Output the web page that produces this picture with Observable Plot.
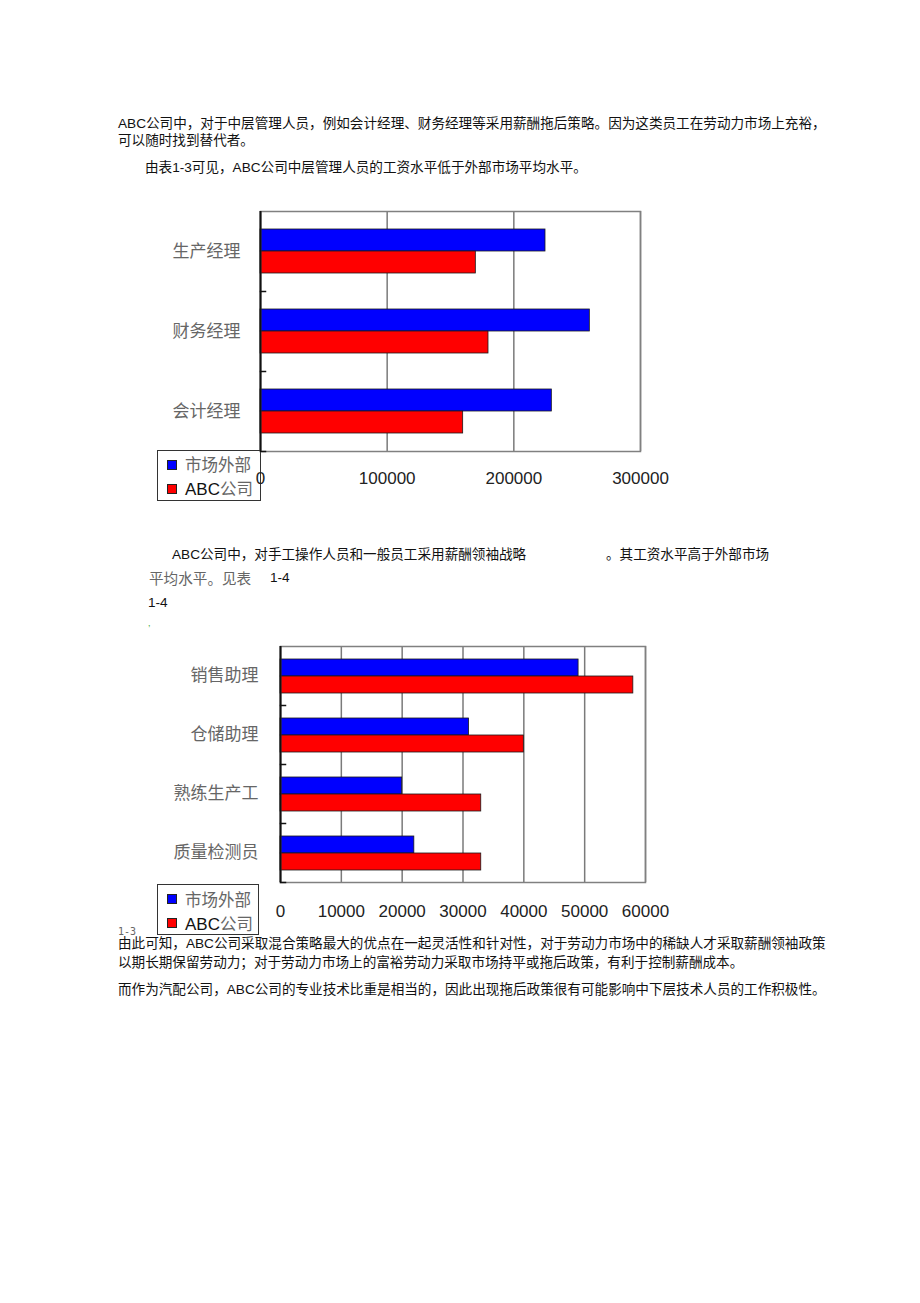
<!DOCTYPE html>
<html><head><meta charset="utf-8">
<script src="https://cdn.jsdelivr.net/npm/d3@7"></script>
<script src="https://cdn.jsdelivr.net/npm/@observablehq/plot@0.6"></script>
<style>
html,body{margin:0;padding:0;background:#fff;}
body{width:920px;height:1303px;position:relative;overflow:hidden;font-family:"Liberation Sans","Noto Sans CJK SC",sans-serif;}
.t{position:absolute;white-space:nowrap;font-size:13.6px;line-height:16px;color:#111;}
.g{color:#666;font-family:"Noto Sans CJK SC",sans-serif;}
.chart{position:absolute;z-index:2;}
.chart svg{background:transparent !important;overflow:visible;}
.legend{position:absolute;z-index:1;border:1px solid #333;background:#fff;box-sizing:border-box;}
.legend .sq{position:absolute;left:9px;width:10px;height:10px;border:1px solid #222;box-sizing:border-box;}
.legend .lt{position:absolute;left:27px;font-size:16.5px;line-height:20px;white-space:nowrap;color:#666;font-family:"Noto Sans CJK SC",sans-serif;}
.legend .lt .abc{font-family:"Liberation Sans",sans-serif;color:#111;font-size:17px;}
</style>
</head><body>
<div class="t" style="left:118px;top:116px">ABC公司中，对于中层管理人员，例如会计经理、财务经理等采用薪酬拖后策略。因为这类员工在劳动力市场上充裕，</div>
<div class="t" style="left:118px;top:133px">可以随时找到替代者。</div>
<div class="t" style="left:145px;top:160px">由表1-3可见，ABC公司中层管理人员的工资水平低于外部市场平均水平。</div>

<div id="c1" class="chart" style="left:150px;top:200px"></div>
<div class="legend" style="left:157px;top:450px;width:104px;height:51px">
  <div class="sq" style="top:9px;background:#0000ff"></div>
  <div class="lt" style="top:3px">市场外部</div>
  <div class="sq" style="top:33px;background:#ff0000"></div>
  <div class="lt" style="top:27px"><span class="abc">ABC</span>公司</div>
</div>

<div class="t" style="left:172px;top:547px">ABC公司中，对手工操作人员和一般员工采用薪酬领袖战略</div>
<div class="t" style="left:606px;top:547px">。其工资水平高于外部市场</div>
<div class="t g" style="left:149px;top:570px;font-size:14.6px">平均水平。见表</div>
<div class="t" style="left:270px;top:570px">1-4</div>
<div class="t" style="left:148px;top:595px">1-4</div>
<div class="t" style="left:148px;top:615px;font-size:9px;color:#3a3">,</div>

<div id="c2" class="chart" style="left:150px;top:630px"></div>
<div class="legend" style="left:157px;top:884px;width:102px;height:51px">
  <div class="sq" style="top:9px;background:#0000ff"></div>
  <div class="lt" style="top:4px">市场外部</div>
  <div class="sq" style="top:33px;background:#ff0000"></div>
  <div class="lt" style="top:28px"><span class="abc">ABC</span>公司</div>
</div>
<div class="t" style="left:118px;top:924px;font-size:10px;color:#666;font-family:'DejaVu Sans Mono',monospace">1-3</div>

<div class="t" style="left:118px;top:936px">由此可知，ABC公司采取混合策略最大的优点在一起灵活性和针对性，对于劳动力市场中的稀缺人才采取薪酬领袖政策</div>
<div class="t" style="left:118px;top:955px">以期长期保留劳动力；对于劳动力市场上的富裕劳动力采取市场持平或拖后政策，有利于控制薪酬成本。</div>
<div class="t" style="left:118px;top:982px">而作为汽配公司，ABC公司的专业技术比重是相当的，因此出现拖后政策很有可能影响中下层技术人员的工作积极性。</div>

<script>
const series = ["市场外部", "ABC公司"];
const seriesColors = ["#0000ff", "#ff0000"];

const cats1 = ["生产经理", "财务经理", "会计经理"];
const market1 = [225000, 260000, 230000];
const abc1 = [170000, 180000, 160000];
const ticks1 = [0, 100000, 200000, 300000];

const cats2 = ["销售助理", "仓储助理", "熟练生产工", "质量检测员"];
const market2 = [49000, 31000, 20000, 22000];
const abc2 = [58000, 40000, 33000, 33000];
const ticks2 = [0, 10000, 20000, 30000, 40000, 50000, 60000];

function chart(o) {
  const rows = o.cats.flatMap((c, i) => [
    {cat: c, series: series[0], value: o.market[i]},
    {cat: c, series: series[1], value: o.abc[i]}
  ]);
  const innerW = o.width - o.ml - o.mr;
  return Plot.plot({
    width: o.width, height: o.height,
    marginLeft: o.ml, marginRight: o.mr, marginTop: o.mt, marginBottom: o.mb,
    style: {background: "transparent", fontFamily: "Liberation Sans, sans-serif", overflow: "visible"},
    x: {domain: [0, o.ticks[o.ticks.length - 1]]},
    y: {domain: series, paddingInner: 0, paddingOuter: o.po, axis: null},
    fy: {domain: o.cats, padding: 0},
    color: {domain: series, range: seriesColors},
    marks: [
      Plot.gridX(o.ticks, {stroke: "#7a7a7a", strokeOpacity: 1, strokeWidth: 1.5}),
      Plot.barX(rows, {x: "value", y: "series", fy: "cat", fill: "series", stroke: "#1a1a1a", strokeWidth: 0.8}),
      Plot.frame({facet: "super", stroke: "#808080", strokeWidth: 1.5}),
      Plot.ruleX([0], {stroke: "#111", strokeWidth: 2}),
      Plot.frame({anchor: "bottom", insetRight: innerW - 5, stroke: "#111", strokeWidth: 1.5}),
      Plot.axisX(o.ticks, {tickSize: 0, tickPadding: o.tickPad, fontSize: 17, color: "#222", tickFormat: d => String(d), label: null}),
      Plot.axisFy({anchor: "left", tickSize: 0, tickPadding: o.catPad, fontSize: 17, color: "#666", fontFamily: "Noto Sans CJK SC, sans-serif", label: null})
    ]
  });
}

document.getElementById("c1").append(chart({
  cats: cats1, market: market1, abc: abc1, ticks: ticks1,
  width: 540, height: 300, ml: 110, mr: 50, mt: 11, mb: 49, po: 0.816, tickPad: 20, catPad: 20
}));
document.getElementById("c2").append(chart({
  cats: cats2, market: market2, abc: abc2, ticks: ticks2,
  width: 540, height: 300, ml: 130, mr: 45, mt: 14, mb: 47, po: 0.707, tickPad: 22, catPad: 22
}));
</script>
</body></html>
